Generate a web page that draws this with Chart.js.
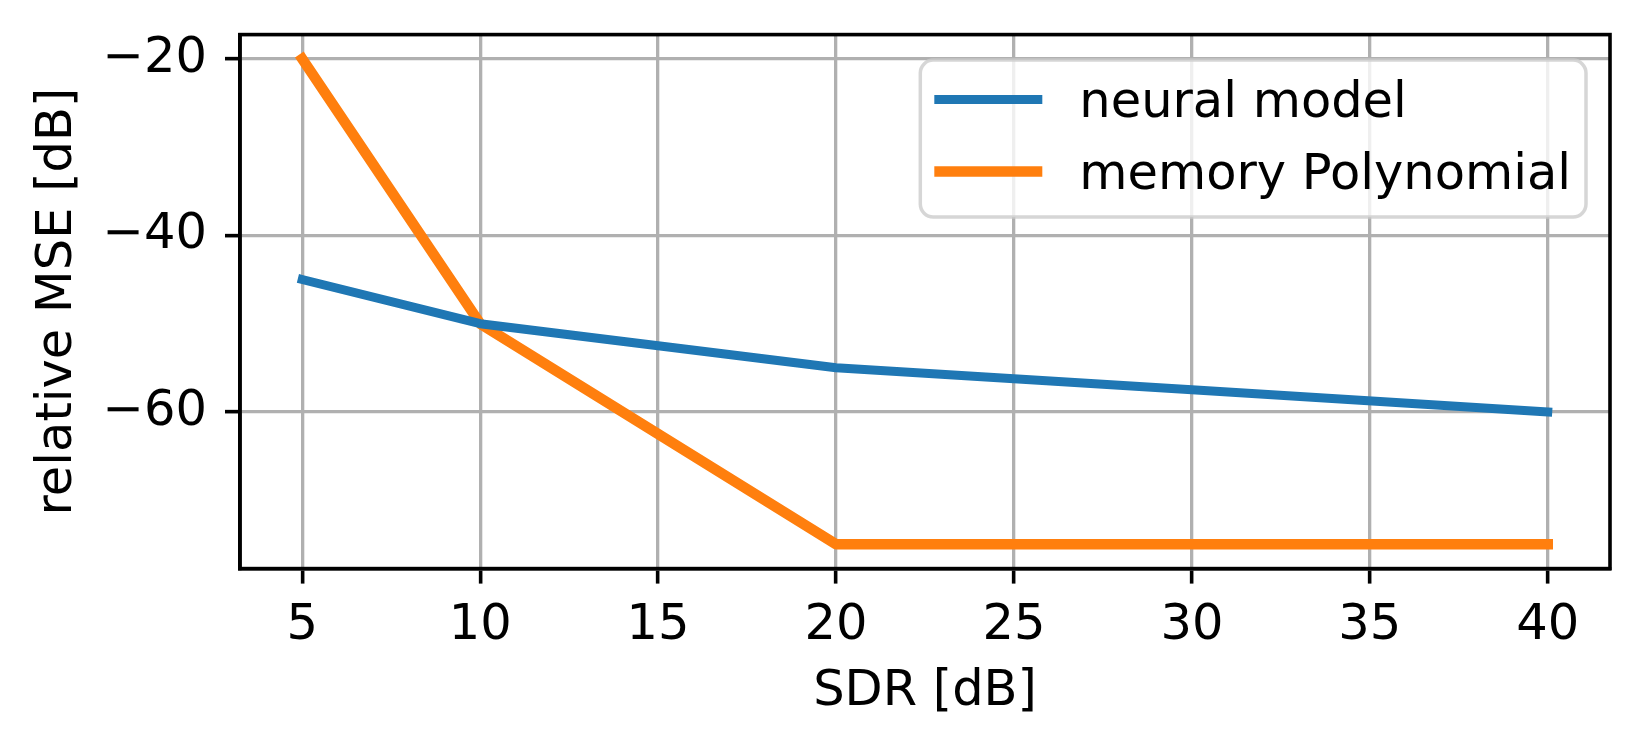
<!DOCTYPE html>
<html>
<head>
<meta charset="utf-8">
<title>relative MSE vs SDR</title>
<script src="https://cdn.jsdelivr.net/npm/chart.js@4.4.1/dist/chart.umd.min.js"></script>
<style>
  html, body { margin: 0; padding: 0; background: #fff; }
  #plot { display: block; }
</style>
</head>
<body>
<canvas id="plot" width="1645" height="753"></canvas>
<script>
// данные
const sdrDb = [5, 10, 20, 30, 40];
const neuralModel = [-45, -50, -55, -57.5, -60];
const memoryPolynomial = [-20, -50, -75, -75, -75];

const seriesLabels = ['neural model', 'memory Polynomial'];
const xTicks = [5, 10, 15, 20, 25, 30, 35, 40];
const yTicks = [-60, -40, -20];

const FONT = 'DejaVu Sans';
const FONT_SIZE = 49.5;
const minus = v => (v < 0 ? '\u2212' + Math.abs(v) : String(v));

// рамка осей + легенда в стиле matplotlib
const framePlugin = {
  id: 'frame',
  afterDatasetsDraw(chart) {
    const { ctx, chartArea: a } = chart;
    ctx.save();
    ctx.strokeStyle = '#000';
    ctx.lineWidth = 3.6;
    ctx.strokeRect(a.left, a.top, a.right - a.left, a.bottom - a.top);

    // легенда
    ctx.font = `${FONT_SIZE}px "${FONT}"`;
    const sets = chart.data.datasets;
    const textW = Math.max(...sets.map(d => ctx.measureText(d.label).width));
    const boxW = 159 + textW + 15;
    const boxH = 157;
    const bx = a.right - 24 - boxW;
    const by = a.top + 25.5;

    ctx.beginPath();
    ctx.roundRect(bx, by, boxW, boxH, 13);
    ctx.fillStyle = 'rgba(255,255,255,0.8)';
    ctx.fill();
    ctx.lineWidth = 3.5;
    ctx.strokeStyle = 'rgba(204,204,204,0.8)';
    ctx.stroke();

    sets.forEach((d, i) => {
      const ly = by + 39.5 + i * 72;
      ctx.beginPath();
      ctx.moveTo(bx + 14, ly);
      ctx.lineTo(bx + 122, ly);
      ctx.strokeStyle = d.borderColor;
      ctx.lineWidth = d.borderWidth;
      ctx.lineCap = 'butt';
      ctx.stroke();

      ctx.fillStyle = '#000';
      ctx.textAlign = 'left';
      ctx.textBaseline = 'alphabetic';
      ctx.fillText(d.label, bx + 159, by + 57 + i * 71.5);
    });
    ctx.restore();
  }
};

const toPoints = ys => sdrDb.map((x, i) => ({ x, y: ys[i] }));

new Chart(document.getElementById('plot'), {
  type: 'line',
  data: {
    datasets: [
      {
        label: seriesLabels[0],
        data: toPoints(neuralModel),
        borderColor: '#1f77b4',
        borderWidth: 9,
        borderCapStyle: 'square',
        borderJoinStyle: 'round',
        pointRadius: 0,
        tension: 0,
        fill: false
      },
      {
        label: seriesLabels[1],
        data: toPoints(memoryPolynomial),
        borderColor: '#ff7f0e',
        borderWidth: 10.5,
        borderCapStyle: 'square',
        borderJoinStyle: 'round',
        pointRadius: 0,
        tension: 0,
        fill: false
      }
    ]
  },
  options: {
    responsive: false,
    devicePixelRatio: 1,
    animation: false,
    layout: { padding: { left: 0, right: 35, top: 34.6, bottom: 0 } },
    plugins: {
      legend: { display: false },
      tooltip: { enabled: false }
    },
    scales: {
      x: {
        type: 'linear',
        min: 3.25,
        max: 41.75,
        afterBuildTicks: s => { s.ticks = xTicks.map(v => ({ value: v })); },
        afterFit: s => { s.height = 184.4; s.paddingLeft = 0; s.paddingRight = 0; },
        grid: {
          color: '#b0b0b0',
          lineWidth: 3.3,
          tickColor: '#000',
          tickWidth: 3.6,
          tickLength: 15
        },
        border: { display: true, color: '#000', width: 3.6 },
        ticks: {
          color: '#000',
          padding: 13,
          maxRotation: 0,
          font: { family: FONT, size: FONT_SIZE },
          callback: v => minus(v)
        },
        title: {
          display: true,
          text: 'SDR [dB]',
          color: '#000',
          font: { family: FONT, size: FONT_SIZE },
          padding: { top: 0, bottom: 31.5 }
        }
      },
      y: {
        type: 'linear',
        min: -77.75,
        max: -17.25,
        afterBuildTicks: s => { s.ticks = yTicks.map(v => ({ value: v })); },
        afterFit: s => { s.width = 240; s.paddingTop = 0; s.paddingBottom = 0; },
        grid: {
          color: '#b0b0b0',
          lineWidth: 3.3,
          tickColor: '#000',
          tickWidth: 3.6,
          tickLength: 15
        },
        border: { display: true, color: '#000', width: 3.6 },
        ticks: {
          color: '#000',
          padding: 18,
          font: { family: FONT, size: FONT_SIZE },
          callback: v => minus(v)
        },
        title: {
          display: true,
          text: 'relative MSE [dB]',
          color: '#000',
          font: { family: FONT, size: FONT_SIZE },
          padding: { top: 28, bottom: 0 }
        }
      }
    }
  },
  plugins: [framePlugin]
});
</script>
</body>
</html>
